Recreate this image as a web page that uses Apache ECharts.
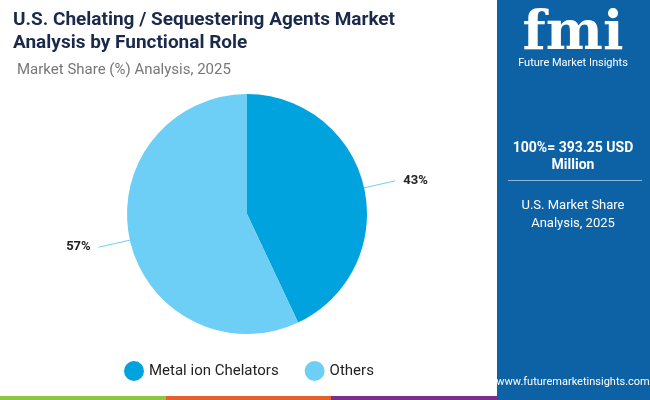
<!DOCTYPE html>
<html><head><meta charset="utf-8">
<script src="https://cdn.jsdelivr.net/npm/echarts@6/dist/echarts.min.js"></script>
<style>html,body{margin:0;padding:0}#main{width:650px;height:400px}</style>
</head><body><div id="main"></div>
<script>
var categories = ["Metal ion Chelators", "Others"];
var shares = [43, 57];
var colors = ["#00a3dd", "#6dcff5"];
var chart = echarts.init(document.getElementById("main"));
var font = "Roboto";
chart.setOption({
  textStyle: { fontFamily: font },
  title: [
    {
      text: "U.S. Chelating / Sequestering Agents Market\nAnalysis by Functional Role",
      left: 8, top: 4,
      textStyle: { fontSize: 19, fontWeight: "bold", color: "#1b2a4a", lineHeight: 23, fontFamily: font }
    },
    {
      text: "Market Share (%) Analysis, 2025",
      left: 12, top: 58,
      textStyle: { fontSize: 15, fontWeight: "normal", color: "#777", fontFamily: font }
    }
  ],
  legend: {
    bottom: 14, left: 119,
    itemWidth: 20, itemHeight: 20, icon: "circle", itemGap: 26,
    textStyle: { fontSize: 15, color: "#222" },
    data: categories
  },
  graphic: [
    { type: "rect", shape: { x: 497, y: 0, width: 153, height: 400 }, style: { fill: "#0d62a6" }, silent: true },
    { type: "rect", shape: { x: 0, y: 396, width: 166, height: 4 }, style: { fill: "#8dc63f" } },
    { type: "rect", shape: { x: 166, y: 396, width: 165, height: 4 }, style: { fill: "#e5602a" } },
    { type: "rect", shape: { x: 331, y: 396, width: 166, height: 4 }, style: { fill: "#7b2e8c" } },
    { type: "text", x: 573, y: 8, style: { text: "fmi", fill: "#fff", font: "bold 54px 'DejaVu Serif'", textAlign: "center" } },
    { type: "text", x: 573, y: 58, style: { text: "Future Market Insights", fill: "#fff", font: "11px " + font, textAlign: "center" } },
    { type: "text", x: 573, y: 140, style: { text: "100%= 393.25 USD\nMillion", fill: "#fff", font: "bold 14px " + font, textAlign: "center", lineHeight: 17 } },
    { type: "rect", shape: { x: 508, y: 180, width: 134, height: 1 }, style: { fill: "#8fb6da" } },
    { type: "text", x: 573, y: 197, style: { text: "U.S. Market Share\nAnalysis, 2025", fill: "#fff", font: "13px " + font, textAlign: "center", lineHeight: 18 } },
    { type: "text", x: 573, y: 377, style: { text: "www.futuremarketinsights.com", fill: "#fff", font: "11px " + font, textAlign: "center" } }
  ],
  series: [{
    type: "pie",
    center: [247, 214],
    radius: [0, 120],
    startAngle: 90,
    clockwise: true,
    data: categories.map(function (c, i) {
      return { name: c, value: shares[i], itemStyle: { color: colors[i] } };
    }),
    label: {
      formatter: "{c}%", fontSize: 13, fontWeight: "bold", color: "#222", distanceToLabelLine: 8
    },
    labelLine: { length: 32, length2: 0, lineStyle: { color: "#6dcff5" } },
    emphasis: { disabled: true }
  }]
});
</script></body></html>
